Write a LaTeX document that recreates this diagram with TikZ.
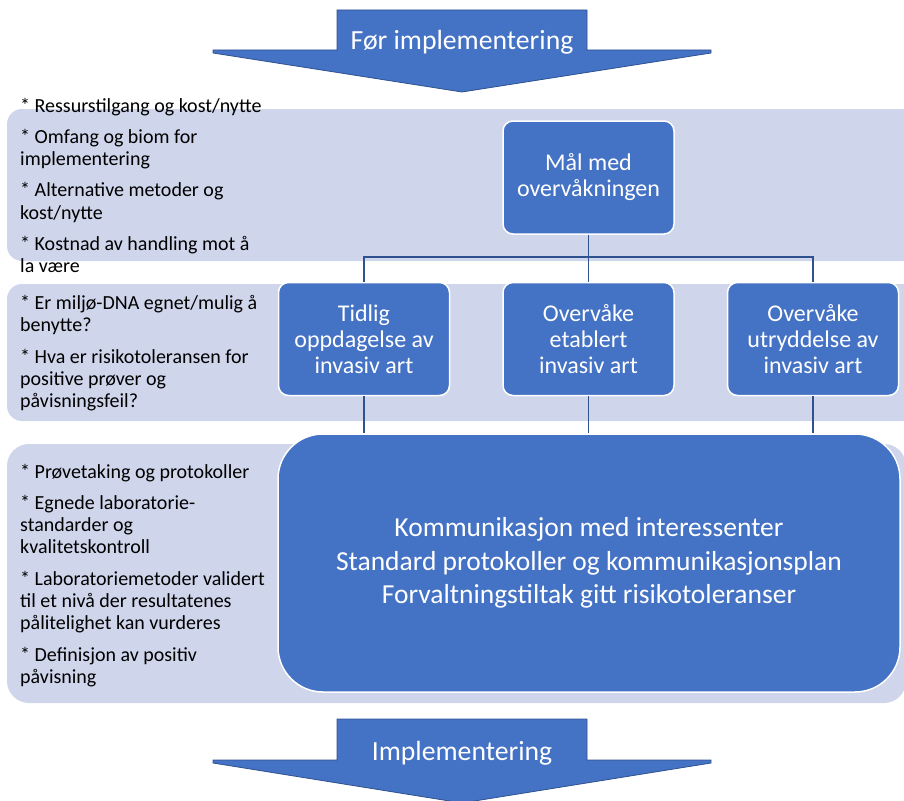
\documentclass[tikz,border=0pt]{standalone}
\usepackage{fontspec}
\setmainfont{Carlito}
\usetikzlibrary{positioning}

\definecolor{boksblaa}{RGB}{68,114,196}
\definecolor{baand}{RGB}{207,213,234}
\definecolor{linjeblaa}{RGB}{47,82,143}

\tikzset{
	boks/.style={draw=white, line width=1.5pt, fill=boksblaa, rounded corners=10pt,
		minimum width=171pt, minimum height=113pt, align=center, text=white,
		inner sep=2pt, font=\fontsize{24}{26}\selectfont},
	liste/.style={anchor=base west, inner sep=0pt,
		font=\fontsize{20}{22.3}\selectfont},
	bakgrunn/.style={fill=baand, rounded corners=15pt},
	pil/.style={fill=boksblaa, draw=linjeblaa, line width=0.8pt},
	piltekst/.style={anchor=base, text=white, inner sep=0pt,
		font=\fontsize{27.7}{30}\selectfont},
	kobling/.style={draw=linjeblaa, line width=1.5pt}
}

\begin{document}
\begin{tikzpicture}[x=1pt, y=-1pt]
			\useasboundingbox (0,0) rectangle (904,800);
			\clip (0,0) rectangle (904,800);
			
			% Bakgrunnsfelt
			\fill[bakgrunn] (7,109) rectangle (930,261);
			\fill[bakgrunn] (7,284) rectangle (930,421);
			\fill[bakgrunn, rounded corners=22pt] (7,444) rectangle (906,703);
			
			% Piler
			\filldraw[pil] (337,10) -- (587,10) -- (587,50) -- (711,50) -- (711,53)
				-- (462,92) -- (213,53) -- (213,50) -- (337,50) -- cycle;
			\node[piltekst] (foer) at (462,50) {Før implementering};
			
			\filldraw[pil] (337,719) -- (587,719) -- (587,760) -- (711,760) -- (711,763)
				-- (462,803) -- (213,763) -- (213,760) -- (337,760) -- cycle;
			\node[piltekst] (impl) at (462,760) {Implementering};
			
			% Bokser
			\node[boks] (maal) at (588.5,177.5) {Mål med\\overvåkningen};
			\node[boks, below=47pt of maal] (etablert) {Overvåke\\etablert\\invasiv art};
			\node[boks, left=52pt of etablert] (tidlig) {Tidlig\\oppdagelse av\\invasiv art};
			\node[boks, right=52pt of etablert] (utryddelse) {Overvåke\\utryddelse av\\invasiv art};
			\node[boks, minimum width=622pt, minimum height=258pt, rounded corners=45pt,
				font=\fontsize{27.5}{33.5}\selectfont] (komm) at (589,563)
				{Kommunikasjon med interessenter\\Standard protokoller og kommunikasjonsplan\\Forvaltningstiltak gitt risikotoleranser};
			
			% Linjer
			\coordinate (deling) at (588.5,257);
			\draw[kobling] (maal.south) -- (deling);
			\draw[kobling] (deling) -| (tidlig.north);
			\draw[kobling] (deling) -- (etablert.north);
			\draw[kobling] (deling) -| (utryddelse.north);
			\foreach \b in {tidlig, etablert, utryddelse} {
				\draw[kobling] (\b.south) -- (\b.south |- komm.north);
			}
			
			% Lister
			\node[liste] (liste1) at (20,112) {\begin{tabular}[t]{@{}l@{}}
				* Ressurstilgang og kost/nytte\\[9pt]
				* Omfang og biom for\\implementering\\[9pt]
				* Alternative metoder og\\kost/nytte\\[9pt]
				* Kostnad av handling mot å\\la være\end{tabular}};
			\node[liste] (liste2) at (20,309.5) {\begin{tabular}[t]{@{}l@{}}
				* Er miljø-DNA egnet/mulig å\\benytte?\\[9pt]
				* Hva er risikotoleransen for\\positive prøver og\\påvisningsfeil?\end{tabular}};
			\node[liste] (liste3) at (20,478) {\begin{tabular}[t]{@{}l@{}}
				* Prøvetaking og protokoller\\[9pt]
				* Egnede laboratorie-\\standarder og\\kvalitetskontroll\\[9pt]
				* Laboratoriemetoder validert\\til et nivå der resultatenes\\pålitelighet kan vurderes\\[9pt]
				* Definisjon av positiv\\påvisning\end{tabular}};
		\end{tikzpicture}
\end{document}
